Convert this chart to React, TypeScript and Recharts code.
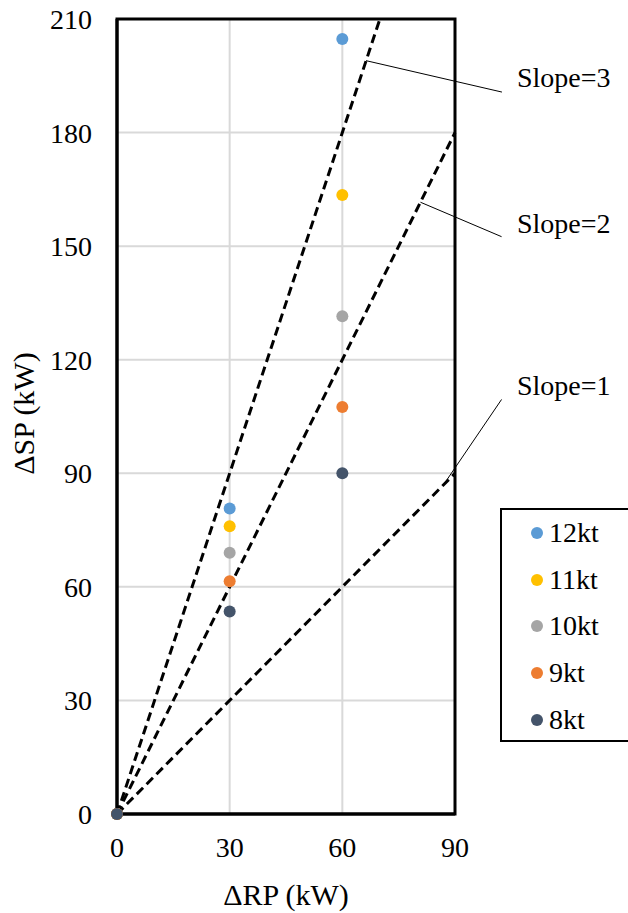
import {
  CartesianGrid,
  Legend,
  ReferenceArea,
  ReferenceDot,
  ReferenceLine,
  Scatter,
  ScatterChart,
  XAxis,
  YAxis,
} from "recharts";

// ΔRP positions where measurements were taken
const rpValues = [0, 30, 60];

// ΔSP per speed
const sp12kt = [0, 80.7, 204.7];
const sp11kt = [0, 76, 163.5];
const sp10kt = [0, 69, 131.5];
const sp9kt = [0, 61.5, 107.5];
const sp8kt = [0, 53.5, 90];

const seriesNames = ["12kt", "11kt", "10kt", "9kt", "8kt"];
const seriesValues = [sp12kt, sp11kt, sp10kt, sp9kt, sp8kt];
const seriesColors = ["#5b9bd5", "#ffc000", "#a5a5a5", "#ed7d31", "#44546a"];

// reference slope lines (start, end)
const slope3 = [{ x: 0, y: 0 }, { x: 70, y: 210 }];
const slope2 = [{ x: 0, y: 0 }, { x: 90, y: 180 }];
const slope1 = [{ x: 0, y: 0 }, { x: 90, y: 90 }];

// callout leader lines: point on slope line -> label
const callouts = [
  { text: "Slope=3", from: { x: 66.3, y: 199 }, to: { x: 102.5, y: 190.7 }, labelY: 194.7 },
  { text: "Slope=2", from: { x: 80.8, y: 161.6 }, to: { x: 102.4, y: 152.5 }, labelY: 156.2 },
  { text: "Slope=1", from: { x: 86.9, y: 86.9 }, to: { x: 102.4, y: 109.5 }, labelY: 113.2 },
];

const xTicks = [0, 30, 60, 90];
const yTicks = [0, 30, 60, 90, 120, 150, 180, 210];

const FONT = "Liberation Serif, Times New Roman, serif";

const toPoints = (vals: number[]) => rpValues.map((x, i) => ({ x, y: vals[i] }));

const NoShape = () => <g />;

const LegendBox = () => (
  <div
    style={{
      width: 140,
      height: 234,
      border: "2.5px solid #000",
      background: "#fff",
      fontFamily: FONT,
      fontSize: 28,
      lineHeight: "28px",
      color: "#000",
      boxSizing: "border-box",
    }}
  >
    {seriesNames.map((name, i) => (
      <div key={name} style={{ height: 46.6, display: "flex", alignItems: "center" }}>
        <span
          style={{
            display: "inline-block",
            width: 12,
            height: 12,
            borderRadius: 6,
            background: seriesColors[i],
            marginLeft: 29,
            marginRight: 6,
          }}
        />
        <span>{name}</span>
      </div>
    ))}
  </div>
);

const XTitle = (props: any) => {
  const vb = props.viewBox || { x: 117, y: 814, width: 338, height: 92 };
  const cx = vb.x + vb.width / 2;
  return (
    <text x={cx} y={905} textAnchor="middle" fontFamily={FONT} fontSize={30} fill="#000">
      ΔRP (kW)
    </text>
  );
};

const YTitle = (props: any) => {
  const vb = props.viewBox || { x: 17, y: 19, width: 100, height: 795 };
  const cx = vb.x + 6;
  const cy = vb.y + vb.height / 2 - 3;
  return (
    <text
      x={cx}
      y={cy}
      textAnchor="middle"
      dominantBaseline="central"
      transform={`rotate(-90 ${cx} ${cy})`}
      fontFamily={FONT}
      fontSize={30}
      fill="#000"
    >
      ΔSP (kW)
    </text>
  );
};

export default function App() {
  return (
    <div style={{ position: "absolute", left: 0, top: 0, background: "#fff", fontFamily: FONT }}>
      <ScatterChart width={628} height={913} margin={{ top: 19, right: 173, bottom: 7, left: 17 }}>
        <CartesianGrid stroke="#d9d9d9" strokeWidth={2} verticalValues={[30, 60]} horizontalValues={yTicks} />
        <XAxis
          type="number"
          dataKey="x"
          domain={[0, 90]}
          ticks={xTicks}
          height={92}
          axisLine={{ stroke: "#000", strokeWidth: 3 }}
          tickLine={false}
          tickSize={0}
          tickMargin={23}
          tick={{ fill: "#000", fontSize: 28, fontFamily: FONT }}
          label={{ content: XTitle }}
        />
        <YAxis
          type="number"
          dataKey="y"
          domain={[0, 210]}
          ticks={yTicks}
          width={100}
          axisLine={{ stroke: "#000", strokeWidth: 3 }}
          tickLine={false}
          tickSize={0}
          tickMargin={25}
          tick={{ fill: "#000", fontSize: 28, fontFamily: FONT }}
          label={{ content: YTitle }}
        />
        <ReferenceArea x1={0} x2={90} y1={0} y2={210} fill="none" stroke="#000" strokeWidth={3} ifOverflow="visible" />

        {[slope3, slope2, slope1].map((seg, i) => (
          <Scatter
            key={`slope-${i}`}
            data={seg}
            shape={NoShape}
            line={{ stroke: "#000", strokeWidth: 3, strokeDasharray: "9 5" }}
            legendType="none"
            isAnimationActive={false}
          />
        ))}

        {callouts.map((c) => (
          <ReferenceLine
            key={`lead-${c.text}`}
            segment={[c.from, c.to]}
            stroke="#000"
            strokeWidth={1}
            ifOverflow="visible"
          />
        ))}
        {callouts.map((c) => (
          <ReferenceDot
            key={`lbl-${c.text}`}
            x={106.5}
            y={c.labelY}
            r={0}
            fill="none"
            stroke="none"
            ifOverflow="visible"
            label={{
              value: c.text,
              position: "right",
              offset: 0,
              fontFamily: FONT,
              fontSize: 28,
              fill: "#000",
            }}
          />
        ))}

        {seriesNames.map((name, i) => (
          <Scatter
            key={name}
            name={name}
            data={toPoints(seriesValues[i])}
            fill={seriesColors[i]}
            shape={(p: any) => <circle cx={p.cx} cy={p.cy} r={6} fill={seriesColors[i]} />}
            isAnimationActive={false}
          />
        ))}

        <Legend
          layout="vertical"
          align="center"
          verticalAlign="middle"
          content={() => <LegendBox />}
          wrapperStyle={{ left: 500, top: 508, width: 140, height: 234 }}
        />
      </ScatterChart>
    </div>
  );
}
